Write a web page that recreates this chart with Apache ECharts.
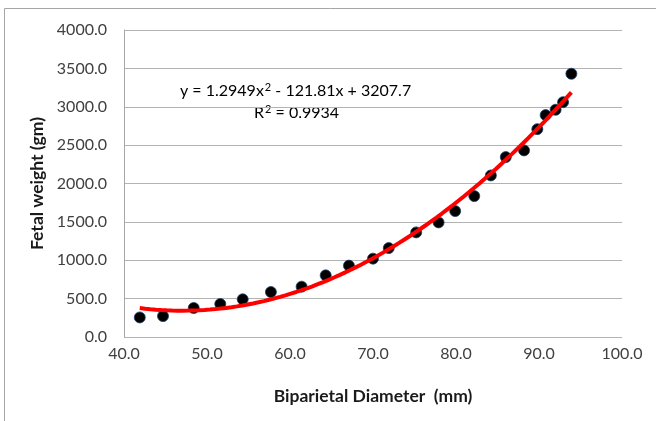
<!DOCTYPE html>
<html>
<head>
<meta charset="utf-8">
<script src="https://cdn.jsdelivr.net/npm/echarts@6/dist/echarts.min.js"></script>
<style>
  html, body { margin: 0; padding: 0; background: #fff; }
  #chart { width: 656px; height: 421px; }
</style>
</head>
<body>
<div id="chart"></div>
<script>
// Biparietal diameter (mm) against fetal weight (gm)
const bpdMm = [41.9, 44.7, 48.4, 51.6, 54.3, 57.7, 61.4, 64.3, 67.1, 70.0, 71.9, 75.2,
               77.9, 79.9, 82.2, 84.2, 86.0, 88.2, 89.8, 90.8, 92.0, 92.9, 93.9];
const weightGm = [255, 272, 378, 430, 491, 586, 656, 803, 930, 1021, 1159, 1363,
                  1493, 1641, 1836, 2105, 2344, 2431, 2708, 2891, 2961, 3060, 3430];

// Polynomial (order 2) trendline coefficients
const trendA = 1.2949, trendB = -121.81, trendC = 3207.7;
const rSquared = 0.9934;

const xTicks = [40, 50, 60, 70, 80, 90, 100];
const yTicks = [0, 500, 1000, 1500, 2000, 2500, 3000, 3500, 4000];

// Sample the fitted curve across the measured range
const trendPts = [];
const xFrom = bpdMm[0], xTo = bpdMm[bpdMm.length - 1];
const steps = 80;
for (let i = 0; i <= steps; i++) {
  const x = xFrom + (xTo - xFrom) * i / steps;
  trendPts.push([x, trendA * x * x + trendB * x + trendC]);
}

const FONT = 'Lato, "Open Sans", sans-serif';
const chart = echarts.init(document.getElementById('chart'), null, { renderer: 'canvas' });

const eqRich = {
  t: { fontFamily: FONT, fontSize: 16, color: '#404040', lineHeight: 18, verticalAlign: 'bottom' },
  sup: { fontFamily: FONT, fontSize: 11, color: '#404040', lineHeight: 18, verticalAlign: 'top', padding: [1, 0, 0, 1] }
};

chart.setOption({
  animation: false,
  backgroundColor: '#ffffff',
  grid: { left: 124, right: 34, top: 30, bottom: 84 },
  xAxis: {
    type: 'value',
    min: xTicks[0], max: xTicks[xTicks.length - 1], interval: 10,
    name: 'Biparietal Diameter  (mm)',
    nameLocation: 'middle', nameGap: 50,
    nameTextStyle: { fontFamily: FONT, fontWeight: 'bold', fontSize: 17.5, color: '#1a1a1a' },
    axisLine: { show: false },
    axisTick: { show: false },
    splitLine: { show: false },
    axisLabel: { formatter: v => v.toFixed(1), fontFamily: FONT, fontSize: 16, color: '#404040', margin: 9 }
  },
  yAxis: {
    type: 'value',
    min: yTicks[0], max: yTicks[yTicks.length - 1], interval: 500,
    name: 'Fetal weight (gm)',
    nameLocation: 'middle', nameGap: 74,
    nameTextStyle: { fontFamily: FONT, fontWeight: 'bold', fontSize: 17.5, color: '#1a1a1a' },
    axisLine: { show: true, lineStyle: { color: '#a6a6a6', width: 1 } },
    axisTick: { show: false },
    splitLine: { show: true, lineStyle: { color: '#b3b3b3', width: 1 } },
    axisLabel: { formatter: v => v.toFixed(1), fontFamily: FONT, fontSize: 16, color: '#404040', margin: 17 }
  },
  series: [
    {
      type: 'scatter',
      data: bpdMm.map((x, i) => [x, weightGm[i]]),
      symbol: 'circle',
      symbolSize: 11,
      itemStyle: { color: '#000000', borderColor: '#1d3f66', borderWidth: 0.8, opacity: 1 },
      z: 2
    },
    {
      type: 'line',
      data: trendPts,
      showSymbol: false,
      smooth: false,
      lineStyle: { color: '#ff0000', width: 4 },
      z: 3
    }
  ],
  graphic: [
    { type: 'line', shape: { x1: 4.5, y1: 8.5, x2: 656, y2: 8.5 }, style: { stroke: '#a6a6a6', lineWidth: 1 } },
    { type: 'line', shape: { x1: 4.5, y1: 8.5, x2: 4.5, y2: 421 }, style: { stroke: '#a6a6a6', lineWidth: 1 } },
    {
      type: 'text', left: 180, top: 81,
      style: {
        text: '{t|y = ' + trendA + 'x}{sup|2}{t| - ' + Math.abs(trendB) + 'x + ' + trendC + '}',
        rich: eqRich
      }
    },
    {
      type: 'text', left: 254, top: 103,
      style: {
        text: '{t|R}{sup|2}{t| = ' + rSquared + '}',
        rich: eqRich
      }
    }
  ]
});
</script>
</body>
</html>
